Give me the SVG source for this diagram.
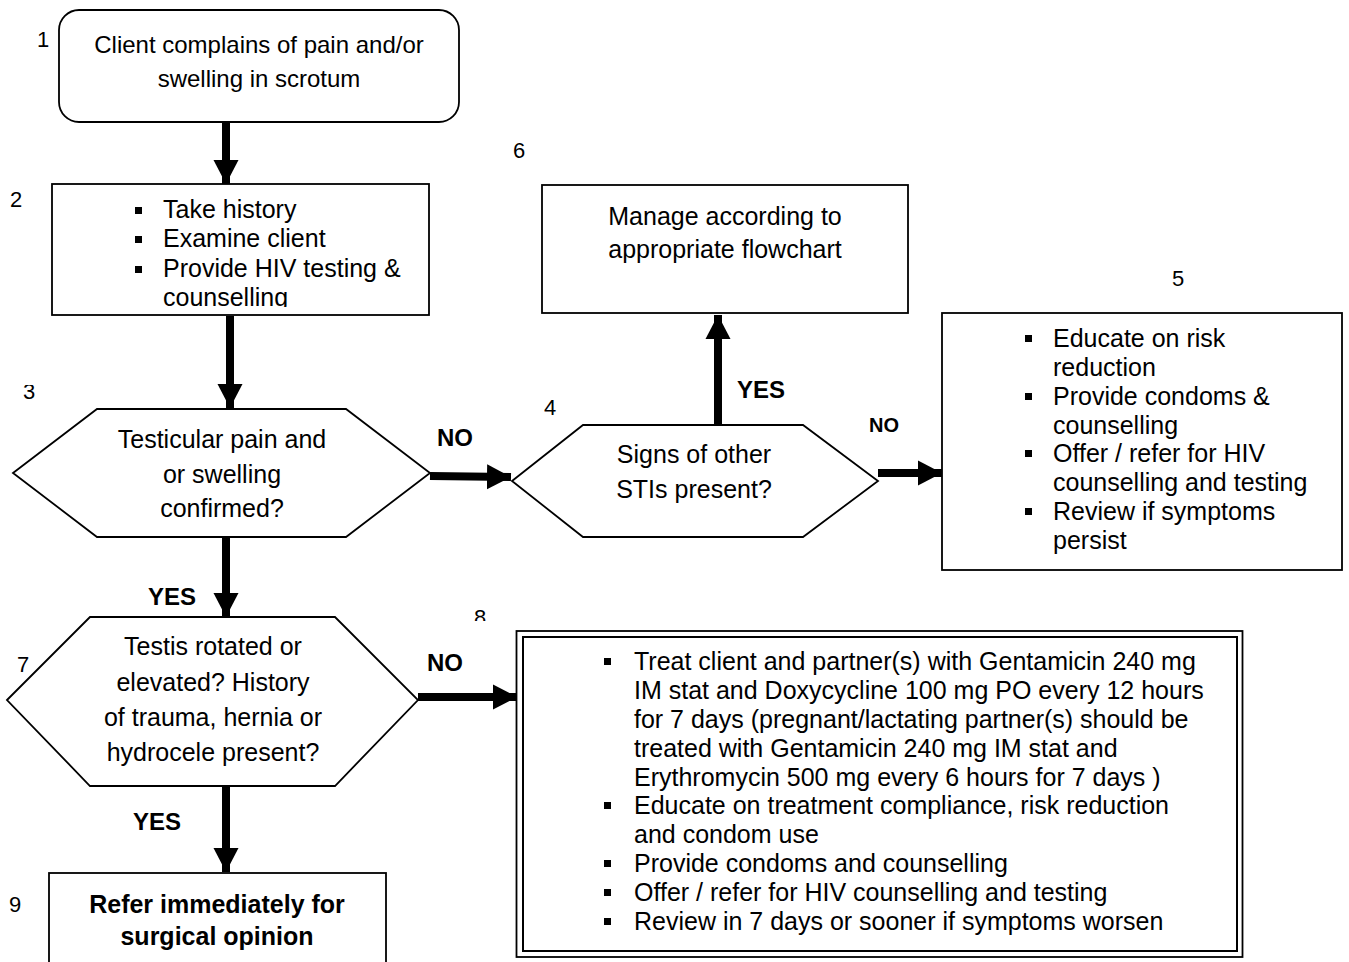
<svg xmlns="http://www.w3.org/2000/svg" width="1349" height="962" viewBox="0 0 1349 962">
  <style>
    .shape { fill: #ffffff; stroke: #000000; stroke-width: 1.8; }
    .txt { font-family: "Liberation Sans", Arial, sans-serif; font-size: 25px; fill: #000000; }
    .mid { text-anchor: middle; }
    .bold { font-weight: bold; }
    .num { font-family: "Liberation Sans", Arial, sans-serif; font-size: 22px; fill: #000000; }
    .lbl { font-family: "Liberation Sans", Arial, sans-serif; font-size: 24px; font-weight: bold; fill: #000000; }
    .bullet { fill: #000000; }
    .conn { stroke: #000000; stroke-width: 8; fill: none; marker-end: url(#head); }
  </style>
  <defs>
    <marker id="head" markerUnits="userSpaceOnUse" markerWidth="26" markerHeight="26" viewBox="0 0 26 26" refX="24" refY="13" orient="auto">
      <path d="M0,0.5 L24,13 L0,25.5 Z" fill="#000000"/>
    </marker>
    <clipPath id="clip-box2"><rect x="52" y="184" width="377" height="123"/></clipPath>
    <clipPath id="clip-n3"><rect x="0" y="385" width="60" height="30"/></clipPath>
    <clipPath id="clip-n8"><rect x="460" y="600" width="40" height="21"/></clipPath>
  </defs>

  <rect width="1349" height="962" fill="#ffffff"/>

  <!-- connectors -->
  <g id="connectors">
    <line class="conn" x1="226" y1="122" x2="226" y2="184"/>
    <line class="conn" x1="230" y1="316" x2="230" y2="408"/>
    <line class="conn" x1="430" y1="476" x2="511" y2="477"/>
    <line class="conn" x1="718" y1="425" x2="718" y2="315"/>
    <line class="conn" x1="878" y1="473" x2="942" y2="473"/>
    <line class="conn" x1="226" y1="537" x2="226" y2="617"/>
    <line class="conn" x1="418" y1="697" x2="517" y2="697"/>
    <line class="conn" x1="226" y1="778" x2="226" y2="872"/>
    <text class="lbl" x="437" y="446">NO</text>
    <text class="lbl" x="148" y="605">YES</text>
    <text class="lbl" x="737" y="398">YES</text>
    <text class="lbl" x="869" y="432" style="font-size:20px">NO</text>
    <text class="lbl" x="427" y="671">NO</text>
    <text class="lbl" x="133" y="830">YES</text>
  </g>

  <!-- 1: presenting complaint -->
  <g id="node1">
    <rect class="shape" x="59" y="10" width="400" height="112" rx="20" ry="20"/>
    <text class="num" x="37" y="47">1</text>
    <text class="txt mid" x="259" y="53" style="font-size:24px">Client complains of pain and/or</text>
    <text class="txt mid" x="259" y="87" style="font-size:24px">swelling in scrotum</text>
  </g>

  <!-- 2: history and examination -->
  <g id="node2">
    <rect class="shape" x="52" y="184" width="377" height="131"/>
    <text class="num" x="10" y="207">2</text>
    <g clip-path="url(#clip-box2)">
      <rect class="bullet" x="135" y="207" width="7" height="7"/>
      <rect class="bullet" x="135" y="236" width="7" height="7"/>
      <rect class="bullet" x="135" y="266" width="7" height="7"/>
      <text class="txt" x="163" y="218">Take history</text>
      <text class="txt" x="163" y="247">Examine client</text>
      <text class="txt" x="163" y="277">Provide HIV testing &amp;</text>
      <text class="txt" x="163" y="306">counselling</text>
    </g>
  </g>

  <!-- 3: decision -->
  <g id="node3">
    <polygon class="shape" points="13,473 97,409 346,409 430,473 346,537 97,537"/>
    <text class="num" x="23" y="399" clip-path="url(#clip-n3)">3</text>
    <text class="txt mid" x="222" y="448">Testicular pain and</text>
    <text class="txt mid" x="222" y="483">or swelling</text>
    <text class="txt mid" x="222" y="517">confirmed?</text>
  </g>

  <!-- 4: decision -->
  <g id="node4">
    <polygon class="shape" points="512,481 583,425 803,425 878,481 803,537 583,537"/>
    <text class="num" x="544" y="415">4</text>
    <text class="txt mid" x="694" y="463">Signs of other</text>
    <text class="txt mid" x="694" y="498">STIs present?</text>
  </g>

  <!-- 5: advice -->
  <g id="node5">
    <rect class="shape" x="942" y="313" width="400" height="257"/>
    <text class="num" x="1172" y="286">5</text>
    <rect class="bullet" x="1025" y="335" width="7" height="7"/>
    <rect class="bullet" x="1025" y="393" width="7" height="7"/>
    <rect class="bullet" x="1025" y="450" width="7" height="7"/>
    <rect class="bullet" x="1025" y="508" width="7" height="7"/>
    <text class="txt" x="1053" y="347">Educate on risk</text>
    <text class="txt" x="1053" y="376">reduction</text>
    <text class="txt" x="1053" y="405">Provide condoms &amp;</text>
    <text class="txt" x="1053" y="434">counselling</text>
    <text class="txt" x="1053" y="462">Offer / refer for HIV</text>
    <text class="txt" x="1053" y="491">counselling and testing</text>
    <text class="txt" x="1053" y="520">Review if symptoms</text>
    <text class="txt" x="1053" y="549">persist</text>
  </g>

  <!-- 6: other flowchart -->
  <g id="node6">
    <rect class="shape" x="542" y="185" width="366" height="128"/>
    <text class="num" x="513" y="158">6</text>
    <text class="txt mid" x="725" y="225">Manage according to</text>
    <text class="txt mid" x="725" y="258">appropriate flowchart</text>
  </g>

  <!-- 7: decision -->
  <g id="node7">
    <polygon class="shape" points="7,700 90,617 335,617 418,700 335,786 90,786"/>
    <text class="num" x="17" y="672">7</text>
    <text class="txt mid" x="213" y="655">Testis rotated or</text>
    <text class="txt mid" x="213" y="691">elevated? History</text>
    <text class="txt mid" x="213" y="726">of trauma, hernia or</text>
    <text class="txt mid" x="213" y="761">hydrocele present?</text>
  </g>

  <!-- 8: treatment -->
  <g id="node8">
    <rect class="shape" x="516.5" y="631" width="726" height="326" stroke-width="2.4"/>
    <rect fill="none" stroke="#000000" stroke-width="2" x="523" y="637" width="714" height="314"/>
    <text class="num" x="474" y="625" clip-path="url(#clip-n8)">8</text>
    <rect class="bullet" x="604" y="658" width="7" height="7"/>
    <rect class="bullet" x="604" y="802" width="7" height="7"/>
    <rect class="bullet" x="604" y="860" width="7" height="7"/>
    <rect class="bullet" x="604" y="889" width="7" height="7"/>
    <rect class="bullet" x="604" y="918" width="7" height="7"/>
    <text class="txt" x="634" y="670">Treat client and partner(s) with Gentamicin 240 mg</text>
    <text class="txt" x="634" y="699">IM stat and Doxycycline 100 mg PO every 12 hours</text>
    <text class="txt" x="634" y="728">for 7 days (pregnant/lactating partner(s) should be</text>
    <text class="txt" x="634" y="757">treated with Gentamicin 240 mg IM stat and</text>
    <text class="txt" x="634" y="786">Erythromycin 500 mg every 6 hours for 7 days )</text>
    <text class="txt" x="634" y="814">Educate on treatment compliance, risk reduction</text>
    <text class="txt" x="634" y="843">and condom use</text>
    <text class="txt" x="634" y="872">Provide condoms and counselling</text>
    <text class="txt" x="634" y="901">Offer / refer for HIV counselling and testing</text>
    <text class="txt" x="634" y="930">Review in 7 days or sooner if symptoms worsen</text>
  </g>

  <!-- 9: referral -->
  <g id="node9">
    <rect class="shape" x="49" y="873" width="337" height="100"/>
    <text class="num" x="9" y="912">9</text>
    <text class="txt mid bold" x="217" y="913">Refer immediately for</text>
    <text class="txt mid bold" x="217" y="945">surgical opinion</text>
  </g>
</svg>
